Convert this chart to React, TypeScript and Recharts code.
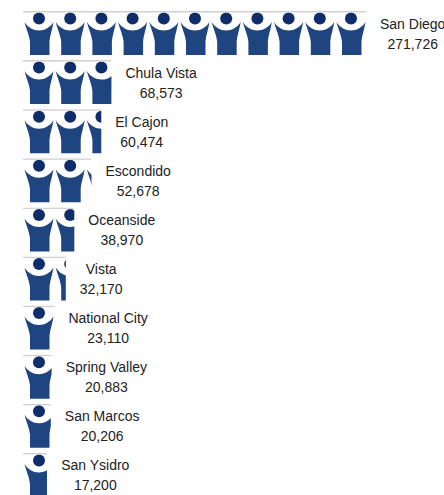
import { BarChart, Bar, XAxis, YAxis, LabelList } from 'recharts';

const CITIES = ['San Diego', 'Chula Vista', 'El Cajon', 'Escondido', 'Oceanside', 'Vista', 'National City', 'Spring Valley', 'San Marcos', 'San Ysidro'];
const POPULATION = [271726, 68573, 60474, 52678, 38970, 32170, 23110, 20883, 20206, 17200];

const chartData = CITIES.map((city, i) => ({ city, population: POPULATION[i] }));

const AXIS_MIN = -2000;
const ICON_WIDTH = 31.2;
const FONT = '"Liberation Sans", Arial, sans-serif';

const measure = (text: string) => {
  const ctx = document.createElement('canvas').getContext('2d');
  if (!ctx) return text.length * 7;
  ctx.font = `14px ${FONT}`;
  return ctx.measureText(text).width;
};

// one person, raised arms, drawn in a 31.2 x 45 box
function Person({ dx }: { dx: number }) {
  return (
    <g transform={`translate(${dx},0)`}>
      <circle cx={16} cy={7.5} r={6} fill="#0f2d6b" />
      <path
        d="M1.5 11 C5 16.5 10 19.5 16 19.5 C22 19.5 27 16.5 30.5 11 C29.5 18 27 24 26.5 30 L26.5 44 L7 44 L7 31 C6.5 24 3 18 1.5 11 Z"
        fill="#1f4580"
      />
    </g>
  );
}

function PeopleBar(props: any) {
  const { x, y, width, height, index } = props;
  const count = Math.ceil(width / ICON_WIDTH);
  const clipId = `people-clip-${index}`;
  return (
    <g transform={`translate(${x},${y})`}>
      <defs>
        <clipPath id={clipId}>
          <rect x={0} y={0} width={width} height={height} />
        </clipPath>
      </defs>
      <g clipPath={`url(#${clipId})`}>
        {Array.from({ length: count }).map((_, i) => (
          <Person key={i} dx={i * ICON_WIDTH} />
        ))}
        <rect x={0} y={0} width={width} height={1.5} fill="#d0d0d0" />
      </g>
    </g>
  );
}

function CityLabel(props: any) {
  const { x, y, width, index } = props;
  const name = CITIES[index];
  const value = POPULATION[index].toLocaleString('en-US');
  const blockWidth = Math.max(measure(name), measure(value));
  const cx = x + width + 14 + blockWidth / 2;
  return (
    <g fontFamily={FONT} fontSize={14} fill="#222" textAnchor="middle">
      <text x={cx} y={y + 17.5}>{name}</text>
      <text x={cx} y={y + 37.5}>{value}</text>
    </g>
  );
}

export default function App() {
  return (
    <div style={{ position: 'absolute', left: 0, top: 0, width: 444, height: 495, overflow: 'hidden', background: '#fff' }}>
      <BarChart
        width={444}
        height={500}
        data={chartData}
        layout="vertical"
        margin={{ top: 9, right: 78, bottom: 0, left: 23 }}
      >
        <XAxis type="number" hide domain={[AXIS_MIN, 271726]} />
        <YAxis type="category" dataKey="city" hide />
        <Bar
          dataKey={(d: any) => [AXIS_MIN, d.population]}
          barSize={45}
          shape={<PeopleBar />}
          isAnimationActive={false}
        >
          <LabelList content={<CityLabel />} />
        </Bar>
      </BarChart>
    </div>
  );
}
